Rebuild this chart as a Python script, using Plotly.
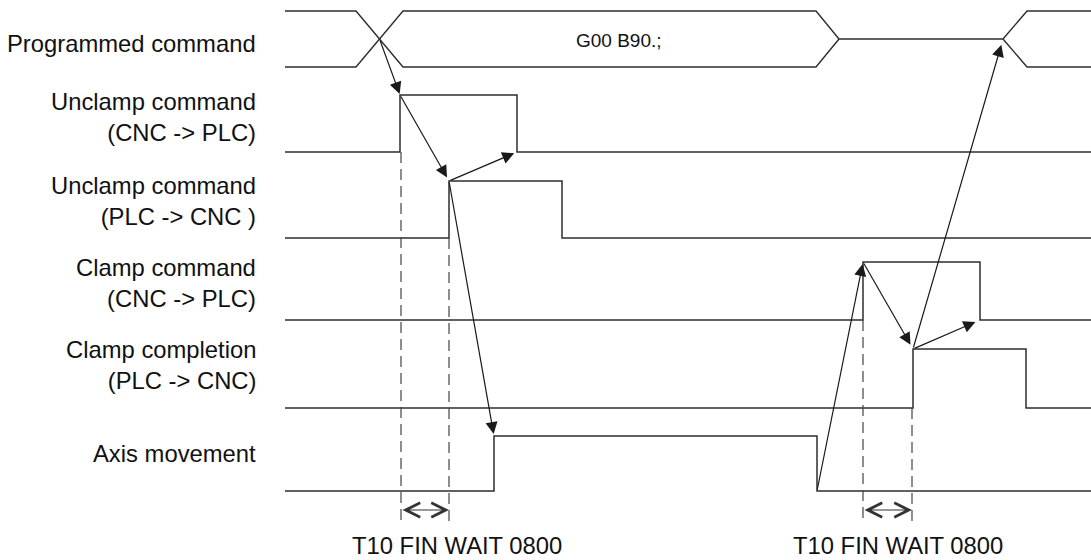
import plotly.graph_objects as go

# ---------------- data (axis units = time / level positions) ----------------
x_start, x_end = 285, 1091

# programmed command bus
bus_top, bus_mid, bus_bot = 11, 39, 67
bus_x = [356, 403, 816, 839, 1003, 1027]   # cross start, cross end, close start, close end, open start, open end
bus_text = "G00 B90.;"
bus_text_x = 619

# single-bit signals
sig_labels = ["Unclamp command<br>(CNC -> PLC)", "Unclamp command<br>(PLC -> CNC )",
              "Clamp command<br>(CNC -> PLC)", "Clamp completion<br>(PLC -> CNC)", "Axis movement"]
sig_label_y = [117, 201, 283, 365, 453]
sig_low = [152, 238, 320, 408, 491]
sig_high = [95, 181, 262, 349, 436]
sig_rise = [400, 449, 863, 913, 494]
sig_fall = [517, 562, 980, 1026, 817]

bus_label = "Programmed command"
bus_label_y = 43

# dashed timing markers: (x, signal index it starts from)
dash_x = [401, 449, 863, 912]
dash_sig = [0, 1, 2, 3]
dash_bottom = 522
span_pairs = [(401, 449), (863, 912)]
span_y = 510
span_text = ["T10 FIN WAIT 0800", "T10 FIN WAIT 0800"]
span_text_x = [457, 898]
span_text_y = 560

# ---------------- figure ----------------
LINE = "#2e2e2e"
fig = go.Figure()

# bus shape
bx = bus_x
bus_upper_x = [x_start, bx[0], bx[1], bx[2], bx[3], bx[4], bx[5], x_end]
bus_upper_y = [bus_top, bus_top, bus_bot, bus_bot, bus_mid, bus_mid, bus_top, bus_top]
bus_lower_x = [x_start, bx[0], bx[1], bx[2], bx[3]]
bus_lower_y = [bus_bot, bus_bot, bus_top, bus_top, bus_mid]
bus_tail_x = [bx[4], bx[5], x_end]
bus_tail_y = [bus_mid, bus_bot, bus_bot]
for xs, ys in [(bus_upper_x, bus_upper_y), (bus_lower_x, bus_lower_y), (bus_tail_x, bus_tail_y)]:
    fig.add_trace(go.Scatter(x=xs, y=ys, mode="lines", line=dict(color=LINE, width=1.4),
                             hoverinfo="skip", showlegend=False))

# signals
for lo, hi, r, f in zip(sig_low, sig_high, sig_rise, sig_fall):
    xs = [x_start, r, r, f, f, x_end]
    ys = [lo, lo, hi, hi, lo, lo]
    fig.add_trace(go.Scatter(x=xs, y=ys, mode="lines", line=dict(color=LINE, width=1.5),
                             hoverinfo="skip", showlegend=False))

# dashed markers
for dx, si in zip(dash_x, dash_sig):
    fig.add_trace(go.Scatter(x=[dx, dx], y=[sig_low[si], dash_bottom], mode="lines",
                             line=dict(color="#444444", width=1.2, dash="11px,6px"),
                             hoverinfo="skip", showlegend=False))

annotations = []
# labels
annotations.append(dict(x=258, y=bus_label_y, text=bus_label, showarrow=False, xanchor="right",
                        yanchor="middle", align="right"))
for lab, ly in zip(sig_labels, sig_label_y):
    annotations.append(dict(x=258, y=ly, text=lab, showarrow=False, xanchor="right",
                            yanchor="middle", align="right"))
annotations.append(dict(x=bus_text_x, y=bus_mid + 1, text=bus_text, showarrow=False,
                        font=dict(size=19)))
for t, tx in zip(span_text, span_text_x):
    annotations.append(dict(x=tx, y=span_text_y, text=t, showarrow=False, yanchor="bottom",
                            borderpad=0))

# span double arrows
for a, b in span_pairs:
    annotations.append(dict(x=b, y=span_y, ax=a, ay=span_y, xref="x", yref="y", axref="x", ayref="y",
                            text="", showarrow=True, arrowhead=5, startarrowhead=5,
                            arrowside="end+start", arrowsize=2.6, startarrowsize=2.6,
                            arrowwidth=1.1, arrowcolor="#333333"))

# causal arrows (tail event -> head event)
cross_x = (bx[0] + bx[1]) / 2
events = {
    "cross": (cross_x, bus_mid),
    "uc_rise": (sig_rise[0], sig_high[0]),
    "uc_fall": (sig_fall[0], sig_low[0]),
    "up_rise": (sig_rise[1], sig_high[1]),
    "cc_rise": (sig_rise[2], sig_high[2]),
    "cc_fall": (sig_fall[2], sig_low[2]),
    "cp_rise": (sig_rise[3], sig_high[3]),
    "ax_rise": (sig_rise[4], sig_high[4]),
    "ax_fall": (sig_fall[4], sig_low[4]),
    "open": (bx[4], bus_mid),
}
arrows = [("cross", "uc_rise", 1), ("uc_rise", "up_rise", 4), ("up_rise", "uc_fall", 3),
          ("up_rise", "ax_rise", 2), ("ax_fall", "cc_rise", 2), ("cc_rise", "cp_rise", 5),
          ("cp_rise", "cc_fall", 5), ("cp_rise", "open", 6)]
for src, dst, so in arrows:
    (x0, y0), (x1, y1) = events[src], events[dst]
    annotations.append(dict(x=x1, y=y1, ax=x0, ay=y0, xref="x", yref="y", axref="x", ayref="y",
                            text="", showarrow=True, arrowhead=2, arrowsize=2.0, arrowwidth=1.2,
                            arrowcolor="#1a1a1a", standoff=so))

fig.update_layout(
    width=1091, height=560,
    margin=dict(l=0, r=0, t=0, b=0),
    paper_bgcolor="white", plot_bgcolor="white",
    font=dict(family="Liberation Sans, Arial, sans-serif", size=23.8, color="#111111"),
    xaxis=dict(range=[0, 1091], visible=False, fixedrange=True),
    yaxis=dict(range=[560, 0], visible=False, fixedrange=True),
    annotations=annotations,
    showlegend=False,
)

fig.write_html("out.html", config={"displayModeBar": False},
               post_script="document.body.style.margin='0px';document.body.style.overflow='hidden';")
